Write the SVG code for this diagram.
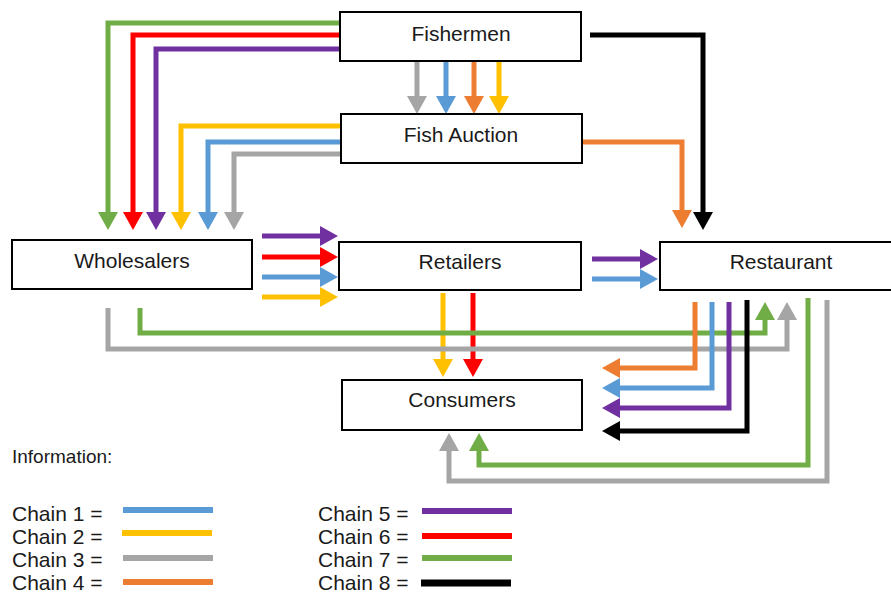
<svg xmlns="http://www.w3.org/2000/svg" width="891" height="593" viewBox="0 0 891 593">
<style>
.box{fill:#fff;stroke:#000;stroke-width:2}
.lbl{font-family:"Liberation Sans",Arial,sans-serif;font-size:21px;fill:#1a1a1a;text-anchor:middle}
.leg{font-family:"Liberation Sans",Arial,sans-serif;font-size:21px;fill:#1a1a1a}
.ln{fill:none;stroke-width:5;stroke-linejoin:miter}
.c1{stroke:#5B9BD5}.c2{stroke:#FFC000}.c3{stroke:#A5A5A5}.c4{stroke:#ED7D31}
.c5{stroke:#7030A0}.c6{stroke:#FF0000}.c7{stroke:#70AD47}.c8{stroke:#000}
</style>
<defs>
<marker id="a1" markerUnits="userSpaceOnUse" markerWidth="20" markerHeight="22" refX="0" refY="10" orient="auto" overflow="visible"><path d="M0,0 L18,10 L0,20 Z" fill="#5B9BD5"/></marker>
<marker id="a2" markerUnits="userSpaceOnUse" markerWidth="20" markerHeight="22" refX="0" refY="10" orient="auto" overflow="visible"><path d="M0,0 L18,10 L0,20 Z" fill="#FFC000"/></marker>
<marker id="a3" markerUnits="userSpaceOnUse" markerWidth="20" markerHeight="22" refX="0" refY="10" orient="auto" overflow="visible"><path d="M0,0 L18,10 L0,20 Z" fill="#A5A5A5"/></marker>
<marker id="a4" markerUnits="userSpaceOnUse" markerWidth="20" markerHeight="22" refX="0" refY="10" orient="auto" overflow="visible"><path d="M0,0 L18,10 L0,20 Z" fill="#ED7D31"/></marker>
<marker id="a5" markerUnits="userSpaceOnUse" markerWidth="20" markerHeight="22" refX="0" refY="10" orient="auto" overflow="visible"><path d="M0,0 L18,10 L0,20 Z" fill="#7030A0"/></marker>
<marker id="a6" markerUnits="userSpaceOnUse" markerWidth="20" markerHeight="22" refX="0" refY="10" orient="auto" overflow="visible"><path d="M0,0 L18,10 L0,20 Z" fill="#FF0000"/></marker>
<marker id="a7" markerUnits="userSpaceOnUse" markerWidth="20" markerHeight="22" refX="0" refY="10" orient="auto" overflow="visible"><path d="M0,0 L18,10 L0,20 Z" fill="#70AD47"/></marker>
<marker id="a8" markerUnits="userSpaceOnUse" markerWidth="20" markerHeight="22" refX="0" refY="10" orient="auto" overflow="visible"><path d="M0,0 L18,10 L0,20 Z" fill="#000"/></marker>
</defs>
<rect width="891" height="593" fill="#fff"/>
<g id="connectors">
<path class="ln c7" d="M340,23 H108 V212" marker-end="url(#a7)"/>
<path class="ln c6" d="M340,35 H133 V212" marker-end="url(#a6)"/>
<path class="ln c5" d="M340,49 H156 V212" marker-end="url(#a5)"/>
<path class="ln c2" d="M341,126 H181 V212" marker-end="url(#a2)"/>
<path class="ln c1" d="M341,142 H208 V212" marker-end="url(#a1)"/>
<path class="ln c3" d="M341,154 H234 V212" marker-end="url(#a3)"/>
<path class="ln c3" d="M417,61 V96" marker-end="url(#a3)"/>
<path class="ln c1" d="M446,61 V96" marker-end="url(#a1)"/>
<path class="ln c4" d="M474,61 V96" marker-end="url(#a4)"/>
<path class="ln c2" d="M499,61 V96" marker-end="url(#a2)"/>
<path class="ln c8" d="M590,35 H703 V212" marker-end="url(#a8)"/>
<path class="ln c4" d="M582,142 H682 V210" marker-end="url(#a4)"/>
<path class="ln c5" d="M262,236 H320" marker-end="url(#a5)"/>
<path class="ln c6" d="M262,257 H320" marker-end="url(#a6)"/>
<path class="ln c1" d="M262,277 H320" marker-end="url(#a1)"/>
<path class="ln c2" d="M262,297 H320" marker-end="url(#a2)"/>
<path class="ln c5" d="M592,259 H640" marker-end="url(#a5)"/>
<path class="ln c1" d="M592,279 H640" marker-end="url(#a1)"/>
<path class="ln c2" d="M443,293 V359" marker-end="url(#a2)"/>
<path class="ln c6" d="M473,293 V359" marker-end="url(#a6)"/>
<path class="ln c7" d="M140,308 V333 H765 V320" marker-end="url(#a7)"/>
<path class="ln c3" d="M108,308 V349 H787 V320" marker-end="url(#a3)"/>
<path class="ln c4" d="M695,302 V368 H620" marker-end="url(#a4)"/>
<path class="ln c1" d="M712,302 V388 H620" marker-end="url(#a1)"/>
<path class="ln c5" d="M729,302 V408 H620" marker-end="url(#a5)"/>
<path class="ln c8" d="M747,300 V431 H620" marker-end="url(#a8)"/>
<path class="ln c7" d="M808,298 V465 H479 V451" marker-end="url(#a7)"/>
<path class="ln c3" d="M827,300 V481 H449 V451" marker-end="url(#a3)"/>
</g>
<g id="fishermen"><rect class="box" x="340" y="12" width="241" height="49"/><text class="lbl" x="461" y="41">Fishermen</text></g>
<g id="fish-auction"><rect class="box" x="341" y="114" width="241" height="49"/><text class="lbl" x="461" y="142">Fish Auction</text></g>
<g id="wholesalers"><rect class="box" x="12" y="240" width="240" height="49"/><text class="lbl" x="132" y="268">Wholesalers</text></g>
<g id="retailers"><rect class="box" x="339" y="242" width="242" height="48"/><text class="lbl" x="460" y="269">Retailers</text></g>
<g id="restaurant"><rect class="box" x="660" y="242" width="240" height="48"/><text class="lbl" x="781" y="269">Restaurant</text></g>
<g id="consumers"><rect class="box" x="342" y="380" width="240" height="50"/><text class="lbl" x="462" y="407">Consumers</text></g>
<g id="legend">
<text class="leg" x="12" y="463" style="font-size:19px">Information:</text>
<text class="leg" x="12" y="521">Chain 1 =</text>
<text class="leg" x="12" y="544">Chain 2 =</text>
<text class="leg" x="12" y="567">Chain 3 =</text>
<text class="leg" x="12" y="590">Chain 4 =</text>
<text class="leg" x="318" y="521">Chain 5 =</text>
<text class="leg" x="318" y="544">Chain 6 =</text>
<text class="leg" x="318" y="567">Chain 7 =</text>
<text class="leg" x="318" y="590">Chain 8 =</text>
<g style="stroke-width:6">
<line class="c1" x1="123" y1="510" x2="213" y2="510"/>
<line class="c2" x1="122" y1="533" x2="212" y2="533"/>
<line class="c3" x1="123" y1="558" x2="213" y2="558"/>
<line class="c4" x1="123" y1="582" x2="213" y2="582"/>
<line class="c5" x1="422" y1="511" x2="512" y2="511"/>
<line class="c6" x1="422" y1="536" x2="512" y2="536"/>
<line class="c7" x1="422" y1="558" x2="512" y2="558"/>
<line class="c8" x1="421" y1="583" x2="511" y2="583" style="stroke-width:7"/>
</g>
</g>
</svg>
